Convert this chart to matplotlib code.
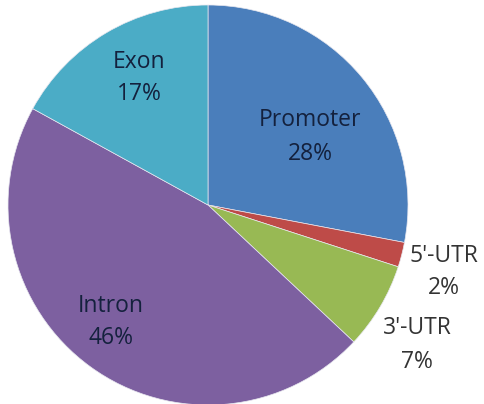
import matplotlib.pyplot as plt

# Data
labels = ["Promoter", "5'-UTR", "3'-UTR", "Intron", "Exon"]
percents = [28, 2, 7, 46, 17]
colors = ["#4A7EBB", "#BE4B48", "#98B954", "#7D60A0", "#4BACC6"]

# label centres in pixel space (x from left, y from top)
label_xy = [(310, 137), (444, 272), (417, 345), (111, 322), (139, 78)]
label_colors = ["#14213D", "#333333", "#333333", "#14213D", "#14213D"]

W, H = 485, 404
fig = plt.figure(figsize=(W / 100, H / 100), dpi=100)
ax = fig.add_axes([0, 0, 1, 1])

# Pie centred at (208, 205) px from top-left, radius 200 px
ax.pie(percents, colors=colors, startangle=90, counterclock=False,
       center=(208, H - 205), radius=200,
       wedgeprops=dict(edgecolor="#E8E8F0", linewidth=0.5))
ax.set_xlim(0, W)
ax.set_ylim(0, H)
ax.set_aspect("equal")
ax.axis("off")

for name, p, (x, y), c in zip(labels, percents, label_xy, label_colors):
    ax.text(x, H - y, f"{name}\n{p}%", ha="center", va="center",
            fontsize=16.5, family="Open Sans", color=c, linespacing=1.5)

fig.savefig("out.png", dpi=100)
